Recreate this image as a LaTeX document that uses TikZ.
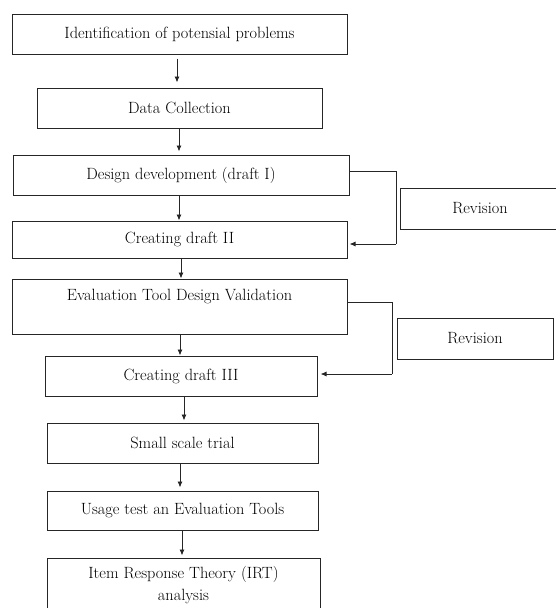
\documentclass[tikz,border=0pt]{standalone}
\usetikzlibrary{arrows.meta}
\begin{document}
\begin{tikzpicture}[x=1pt,y=-1pt,
  box/.style={draw=black!85,line width=1pt,rectangle,inner sep=0pt,align=center,
    font=\fontsize{16.3}{22.5}\selectfont},
  txt/.style={inner sep=0pt,font=\fontsize{16.3}{22.5}\selectfont},
  arr/.style={draw=black!85,line width=0.9pt,-{Latex[length=6pt,width=5pt]}},
  link/.style={draw=black!85,line width=0.9pt}]
\useasboundingbox (0,0) rectangle (556,608);
\clip (0,0) rectangle (556,608);
\node[box,minimum width=335pt,minimum height=40pt] (b1) at (179.5,34) {Identification of potensial problems};
\node[box,minimum width=285pt,minimum height=40pt] (b2) at (179.5,108) {Data Collection};
\node[box,minimum width=336pt,minimum height=40pt] (b3) at (181,175) {Design development (draft I)};
\node[box,minimum width=335pt,minimum height=37pt] (b4) at (179.5,239.5) {Creating draft II};
\node[box,minimum width=335pt,minimum height=55pt] (b5) at (179.5,306.5) {};
\node[txt] (t5) at (179.5,297) {Evaluation Tool Design Validation};
\node[box,minimum width=272pt,minimum height=40pt] (b6) at (181,376) {Creating draft III};
\node[box,minimum width=271pt,minimum height=40pt] (b7) at (182.5,443) {Small scale trial};
\node[box,minimum width=271pt,minimum height=39pt] (b8) at (182.5,510.5) {Usage test an Evaluation Tools};
\node[box,minimum width=273pt,minimum height=54pt] (b9) at (183.5,585) {Item Response Theory (IRT)\\analysis};
\node[box,minimum width=160pt,minimum height=41pt] (r1) at (480,208.5) {Revision};
\node[box,minimum width=156pt,minimum height=41pt] (r2) at (475,338.5) {Revision};
% vertical arrows
\draw[arr,shorten <=4pt,shorten >=5pt] (b1.south -| 177,0) -- (b2.north -| 177,0);
\draw[arr,shorten >=3pt] (b2.south -| 179,0) -- (b3.north -| 179,0);
\draw[arr] (b3.south -| 179,0) -- (b4.north -| 179,0);
\draw[arr] (b4.south -| 181,0) -- (b5.north -| 181,0);
\draw[arr] (b5.south -| 180,0) -- (b6.north -| 180,0);
\draw[arr,shorten >=2pt] (b6.south -| 184,0) -- (b7.north -| 184,0);
\draw[arr,shorten >=3pt] (b7.south -| 180,0) -- (b8.north -| 180,0);
\draw[arr,shorten >=2pt] (b8.south -| 182,0) -- (b9.north -| 182,0);
% revision loops
\coordinate (k1) at (396,171);
\coordinate (k2) at (396,244);
\draw[link] (b3.east |- k1) -- (k1) -- (k2);
\draw[arr,shorten >=2pt] (k2) -- (b4.east |- k2);
\coordinate (k3) at (392,302);
\coordinate (k4) at (392,374);
\draw[link] (b5.east |- k3) -- (k3) -- (k4);
\draw[arr,shorten >=3pt] (k4) -- (b6.east |- k4);
\end{tikzpicture}
\end{document}
